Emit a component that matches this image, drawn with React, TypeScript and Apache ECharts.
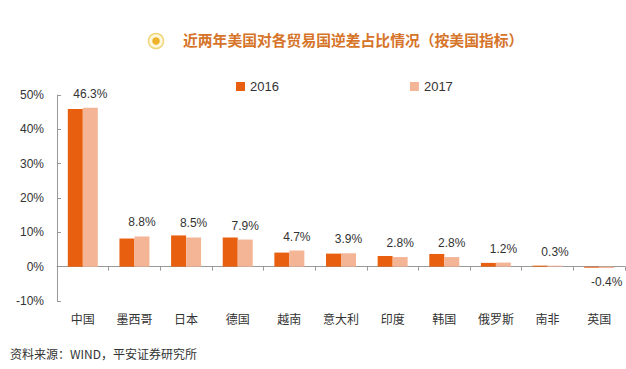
import React, { useEffect, useRef } from "react";
import * as echarts from "echarts";

const categories = ["中国", "墨西哥", "日本", "德国", "越南", "意大利", "印度", "韩国", "俄罗斯", "南非", "英国"];
const values2016 = [45.9, 8.2, 9.1, 8.5, 4.1, 3.8, 3.1, 3.7, 1.1, 0.3, -0.3];
const values2017 = [46.3, 8.8, 8.5, 7.9, 4.7, 3.9, 2.8, 2.8, 1.2, 0.3, -0.4];
const seriesNames = ["2016", "2017"];
const titleText = "近两年美国对各贸易国逆差占比情况（按美国指标）";
const sourceText = "资料来源：WIND，平安证券研究所";

const FONT = "'Liberation Sans', 'Noto Sans CJK SC', sans-serif";

export default function App() {
  const ref = useRef<HTMLDivElement>(null);
  useEffect(() => {
    if (!ref.current) return;
    const chart = echarts.init(ref.current, null, { renderer: "svg" });
    const option: any = {
      animation: false,
      backgroundColor: "#ffffff",
      textStyle: { fontFamily: FONT },
      grid: { left: 57, right: 1, top: 95, bottom: 68, containLabel: false },
      legend: {
        data: seriesNames,
        left: 231,
        top: 75,
        itemWidth: 9,
        itemHeight: 9,
        itemGap: 131,
        icon: "rect",
        textStyle: { fontSize: 13, color: "#333", fontFamily: FONT },
      },
      xAxis: {
        type: "category",
        data: categories,
        axisLine: { onZero: true, lineStyle: { color: "#999", width: 1 } },
        axisTick: { show: true, length: 4, lineStyle: { color: "#999" } },
        axisLabel: { margin: 11, fontSize: 12, color: "#333", fontFamily: "'Noto Sans CJK SC', sans-serif" },
      },
      yAxis: {
        type: "value",
        min: -10,
        max: 50,
        interval: 10,
        axisLine: { show: true, lineStyle: { color: "#999", width: 1 } },
        axisTick: { show: true, inside: true, length: 4, lineStyle: { color: "#999" } },
        axisLabel: { formatter: "{value}%", margin: 13, fontSize: 12, color: "#333", fontFamily: FONT },
        splitLine: { show: false },
      },
      series: [
        {
          name: seriesNames[0],
          type: "bar",
          barWidth: 15,
          barGap: "0%",
          itemStyle: { color: "#E8600F" },
          data: values2016,
        },
        {
          name: seriesNames[1],
          type: "bar",
          barWidth: 15,
          barGap: "0%",
          itemStyle: { color: "#F4B597" },
          label: {
            show: true,
            position: "top",
            distance: 8,
            fontSize: 12,
            color: "#333",
            fontFamily: FONT,
            formatter: (p: any) => p.value.toFixed(1) + "%",
          },
          data: values2017.map((v) =>
            v < 0 ? { value: v, label: { position: "bottom", distance: 8 } } : v
          ),
        },
      ],
      graphic: [
        { type: "circle", shape: { cx: 156, cy: 41, r: 7.5 }, style: { fill: "#FDF7DC", stroke: "#EFD67A", lineWidth: 1.5 } },
        { type: "circle", shape: { cx: 156, cy: 41, r: 3.8 }, style: { fill: "#EDB12C" } },
        {
          type: "text",
          left: 183,
          top: 32,
          style: {
            text: titleText,
            fontSize: 14.8,
            fontWeight: "bold",
            fill: "#D6742A",
            fontFamily: "'Noto Sans CJK SC', sans-serif",
          },
        },
        {
          type: "text",
          left: 10,
          top: 347,
          style: {
            text: sourceText,
            fontSize: 12,
            fill: "#333",
            fontFamily: "'Noto Sans CJK SC', sans-serif",
          },
        },
      ],
    };
    chart.setOption(option);
    return () => chart.dispose();
  }, []);
  return (
    <div
      ref={ref}
      style={{ position: "absolute", left: 0, top: 0, width: 626, height: 369 }}
    />
  );
}
